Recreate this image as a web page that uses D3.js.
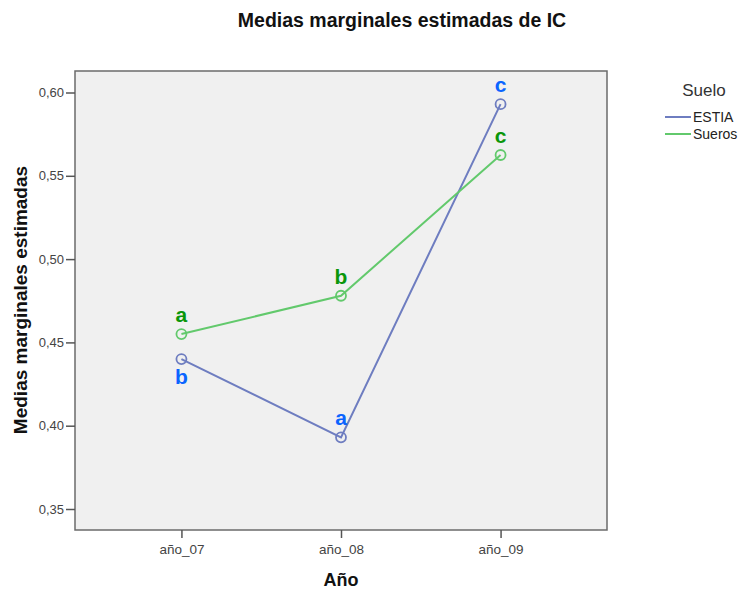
<!DOCTYPE html>
<html>
<head>
<meta charset="utf-8">
<title>Medias marginales estimadas de IC</title>
<script src="https://cdn.jsdelivr.net/npm/d3@7"></script>
<style>
  body { margin: 0; background: #fff; }
  text { font-family: "Liberation Sans", Arial, sans-serif; }
</style>
</head>
<body>
<script>
// values
var years = ["año_07", "año_08", "año_09"];
var estia = [0.440, 0.393, 0.593];
var sueros = [0.455, 0.478, 0.5625];
var estiaLetters = ["b", "a", "c"];
var suerosLetters = ["a", "b", "c"];
var estiaLetterSide = ["below", "above", "above"];
var suerosLetterSide = ["above", "above", "above"];
var yTicks = [0.35, 0.40, 0.45, 0.50, 0.55, 0.60];

var series = [
  { name: "ESTIA", values: estia, letters: estiaLetters, side: estiaLetterSide, line: "#6e7dc0", letter: "#0a64ff" },
  { name: "Sueros", values: sueros, letters: suerosLetters, side: suerosLetterSide, line: "#62c96c", letter: "#0a960a" }
];

var W = 742, H = 595;
var frame = { left: 75, top: 71, right: 607, bottom: 530 };

var svg = d3.select("body").append("svg")
    .attr("width", W)
    .attr("height", H);

// scales
var x = d3.scalePoint()
    .domain(years)
    .range([frame.left, frame.right])
    .padding(0.667);

var y = d3.scaleLinear()
    .domain([0.35, 0.60])
    .range([509, 92.5]);

// plot background
svg.append("rect")
    .attr("x", frame.left)
    .attr("y", frame.top)
    .attr("width", frame.right - frame.left)
    .attr("height", frame.bottom - frame.top)
    .attr("fill", "#f0f0f0")
    .attr("stroke", "#6b6b6b")
    .attr("stroke-width", 1.5);

// axes
var fmt = function(d) { return d3.format(".2f")(d).replace(".", ","); };

var yAxis = svg.append("g")
    .attr("transform", "translate(" + frame.left + ",0)")
    .call(d3.axisLeft(y).tickValues(yTicks).tickFormat(fmt).tickSize(9).tickPadding(2));

var xAxis = svg.append("g")
    .attr("transform", "translate(0," + frame.bottom + ")")
    .call(d3.axisBottom(x).tickSize(8).tickPadding(6));

[yAxis, xAxis].forEach(function(g) {
  g.select(".domain").remove();
  g.selectAll(".tick line").attr("stroke", "#555").attr("stroke-width", 1.5);
  g.selectAll(".tick text")
    .attr("fill", "#444")
    .style("font-family", "'Liberation Sans', Arial, sans-serif")
    .style("font-size", "13px");
});
xAxis.selectAll(".tick text").style("font-size", "13.5px");

// titles
svg.append("text")
    .attr("x", 402)
    .attr("y", 27)
    .attr("text-anchor", "middle")
    .attr("font-weight", "bold")
    .attr("font-size", 19.5)
    .attr("fill", "#111")
    .text("Medias marginales estimadas de IC");

svg.append("text")
    .attr("transform", "translate(27,300) rotate(-90)")
    .attr("text-anchor", "middle")
    .attr("font-weight", "bold")
    .attr("font-size", 19)
    .attr("fill", "#111")
    .text("Medias marginales estimadas");

svg.append("text")
    .attr("x", x("año_08"))
    .attr("y", 586)
    .attr("text-anchor", "middle")
    .attr("font-weight", "bold")
    .attr("font-size", 18)
    .attr("fill", "#111")
    .text("Año");

// lines, markers and letters
var line = d3.line()
    .x(function(d, i) { return x(years[i]); })
    .y(function(d) { return y(d); });

series.forEach(function(s) {
  svg.append("path")
      .datum(s.values)
      .attr("fill", "none")
      .attr("stroke", s.line)
      .attr("stroke-width", 2)
      .attr("d", line);

  svg.selectAll(null)
      .data(s.values)
      .enter()
      .append("circle")
      .attr("cx", function(d, i) { return x(years[i]); })
      .attr("cy", function(d) { return y(d); })
      .attr("r", 5)
      .attr("fill", "none")
      .attr("stroke", s.line)
      .attr("stroke-width", 1.8);

  svg.selectAll(null)
      .data(s.values)
      .enter()
      .append("text")
      .attr("x", function(d, i) { return x(years[i]); })
      .attr("y", function(d, i) { return y(d) + (s.side[i] === "below" ? 25 : -12); })
      .attr("text-anchor", "middle")
      .attr("font-weight", "bold")
      .attr("font-size", 21)
      .attr("fill", s.letter)
      .text(function(d, i) { return s.letters[i]; });
});

// legend
var legend = svg.append("g");

legend.append("text")
    .attr("x", 704)
    .attr("y", 96)
    .attr("text-anchor", "middle")
    .attr("font-size", 17)
    .attr("fill", "#333")
    .text("Suelo");

series.forEach(function(s, i) {
  var ly = 117 + i * 17;
  legend.append("line")
      .attr("x1", 665).attr("x2", 691)
      .attr("y1", ly).attr("y2", ly)
      .attr("stroke", s.line)
      .attr("stroke-width", 2);
  legend.append("text")
      .attr("x", 693)
      .attr("y", ly + 5)
      .attr("font-size", 14)
      .attr("fill", "#222")
      .text(s.name);
});
</script>
</body>
</html>
